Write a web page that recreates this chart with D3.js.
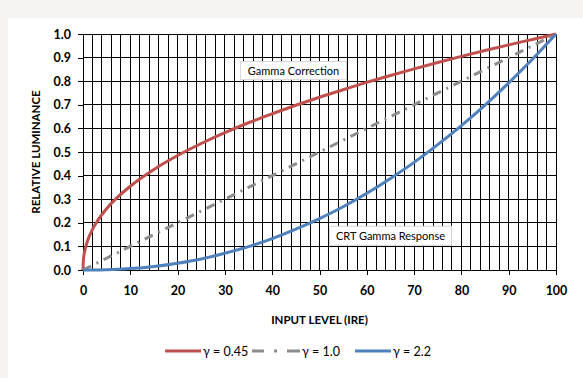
<!DOCTYPE html>
<html>
<head>
<meta charset="utf-8">
<script src="https://cdn.jsdelivr.net/npm/d3@7"></script>
<style>
  body { margin: 0; background: #f6f3f3; }
  text { font-family: Lato, "Open Sans", sans-serif; }
</style>
</head>
<body>
<script>
const WIDTH = 583;
const HEIGHT = 378;

// Nivel de entrada (IRE) y luminancia
const entrada = [0, 0.1, 0.3, 0.5, 1, 2, 3, 5, 10, 15, 20, 25, 30, 35, 40, 45, 50, 55, 60, 65, 70, 75, 80, 85, 90, 95, 100];
const gamma045 = [0, 0.045, 0.073, 0.092, 0.126, 0.172, 0.206, 0.26, 0.355, 0.426, 0.485, 0.536, 0.582, 0.624, 0.662, 0.698, 0.732, 0.764, 0.795, 0.824, 0.852, 0.879, 0.905, 0.93, 0.954, 0.977, 1];
const gamma22 = [0, 0, 0, 0, 0, 0, 0, 0.001, 0.006, 0.015, 0.029, 0.047, 0.071, 0.099, 0.133, 0.173, 0.218, 0.268, 0.325, 0.388, 0.456, 0.531, 0.612, 0.699, 0.793, 0.893, 1];
const entradaLineal = [0, 100];
const gamma10 = [0, 1];

const ticksX = [0, 10, 20, 30, 40, 50, 60, 70, 80, 90, 100];
const ticksY = [0, 0.1, 0.2, 0.3, 0.4, 0.5, 0.6, 0.7, 0.8, 0.9, 1.0];

const series = [
  { nombre: "γ = 0.45", x: entrada, y: gamma045, color: "#c0504d", dash: null, dashLeyenda: null },
  { nombre: "γ = 1.0", x: entradaLineal, y: gamma10, color: "#8c8c8c", dash: "9,6,2,6", dashLeyenda: "12,10,3,10,13" },
  { nombre: "γ = 2.2", x: entrada, y: gamma22, color: "#4f81bd", dash: null, dashLeyenda: null }
];

const svg = d3.select("body").append("svg")
  .attr("width", WIDTH)
  .attr("height", HEIGHT);

// marco blanco del grafico
svg.append("rect")
  .attr("x", 8).attr("y", 18)
  .attr("width", WIDTH - 8).attr("height", HEIGHT - 18)
  .attr("fill", "#fff");

const x = d3.scaleLinear().domain([0, 100]).range([83, 556]);
const y = d3.scaleLinear().domain([0, 1]).range([270, 34]);

// rejilla vertical cada 2 unidades
svg.append("g")
  .selectAll("line")
  .data(d3.range(2, 101, 2))
  .join("line")
  .attr("x1", d => x(d)).attr("x2", d => x(d))
  .attr("y1", y(0)).attr("y2", y(1))
  .attr("stroke", "#000").attr("stroke-width", 1)
  .attr("shape-rendering", "crispEdges");

// rejilla horizontal
svg.append("g")
  .selectAll("line")
  .data(ticksY.slice(1))
  .join("line")
  .attr("x1", x(0)).attr("x2", x(100))
  .attr("y1", d => y(d)).attr("y2", d => y(d))
  .attr("stroke", "#000").attr("stroke-width", 1)
  .attr("shape-rendering", "crispEdges");

// ejes
const ejeX = svg.append("g")
  .attr("transform", `translate(0,${y(0)})`)
  .call(d3.axisBottom(x).tickValues(ticksX).tickSize(5).tickPadding(11).tickSizeOuter(0));
const ejeY = svg.append("g")
  .attr("transform", `translate(${x(0)},0)`)
  .call(d3.axisLeft(y).tickValues(ticksY).tickFormat(d3.format(".1f")).tickSize(5).tickPadding(7).tickSizeOuter(0));

[ejeX, ejeY].forEach(g => {
  g.selectAll("path, line").attr("stroke", "#000").attr("shape-rendering", "crispEdges");
  g.selectAll("text")
    .attr("fill", "#000")
    .style("font-size", "12.5px")
    .style("font-weight", "bold")
    .style("font-family", "Lato, sans-serif");
});

// curvas
const linea = d3.line().curve(d3.curveMonotoneX);
series.forEach(s => {
  svg.append("path")
    .datum(s.x.map((v, i) => [x(v), y(s.y[i])]))
    .attr("d", linea)
    .attr("fill", "none")
    .attr("stroke", s.color)
    .attr("stroke-width", 3)
    .attr("stroke-dasharray", s.dash);
});

// etiquetas de las curvas
const etiquetas = [
  { texto: "Gamma Correction", cx: 44.5, cy: 0.845, w: 106, h: 18 },
  { texto: "CRT Gamma Response", cx: 65, cy: 0.145, w: 122, h: 19 }
];
etiquetas.forEach(e => {
  svg.append("rect")
    .attr("x", x(e.cx) - e.w / 2).attr("y", y(e.cy) - e.h / 2)
    .attr("width", e.w).attr("height", e.h)
    .attr("fill", "#fff")
    .attr("stroke", "#d9d9d9");
  svg.append("text")
    .attr("x", x(e.cx)).attr("y", y(e.cy) + 4)
    .attr("text-anchor", "middle")
    .style("font-size", "11px")
    .text(e.texto);
});

// titulos de ejes
svg.append("text")
  .attr("x", (x(0) + x(100)) / 2).attr("y", 324)
  .attr("text-anchor", "middle")
  .style("font-size", "11.5px").style("font-weight", "bold")
  .text("INPUT LEVEL (IRE)");
svg.append("text")
  .attr("transform", `translate(40,${(y(0) + y(1)) / 2}) rotate(-90)`)
  .attr("text-anchor", "middle")
  .style("font-size", "11.5px").style("font-weight", "bold")
  .text("RELATIVE LUMINANCE");

// leyenda
const leyendaX = [165, 252, 355];
const leyendaAncho = [36, 48, 36];
const leyenda = svg.append("g").attr("transform", "translate(0,351)");
series.forEach((s, i) => {
  const g = leyenda.append("g").attr("transform", `translate(${leyendaX[i]},0)`);
  g.append("line")
    .attr("x1", 0).attr("x2", leyendaAncho[i])
    .attr("stroke", s.color).attr("stroke-width", 3)
    .attr("stroke-dasharray", s.dashLeyenda);
  g.append("text")
    .attr("x", leyendaAncho[i] + 2).attr("y", 4.5)
    .style("font-size", "12.5px")
    .text(s.nombre);
});
</script>
</body>
</html>
